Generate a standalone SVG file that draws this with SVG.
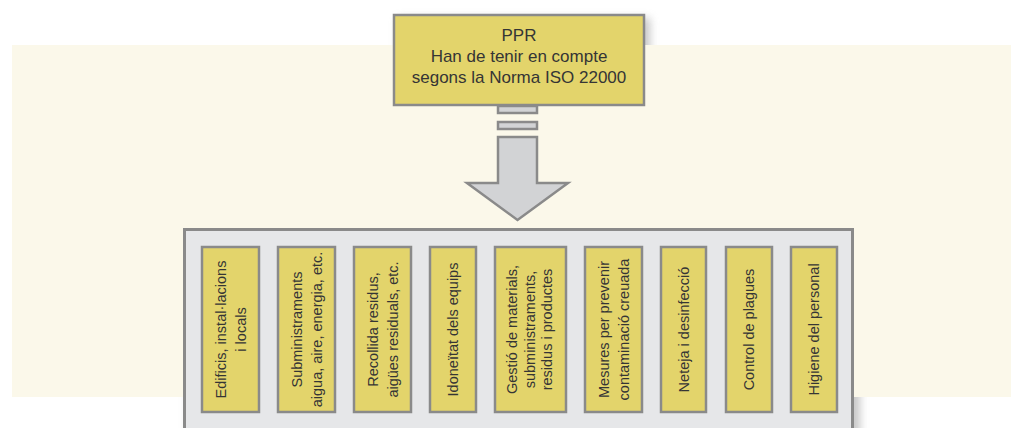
<svg xmlns="http://www.w3.org/2000/svg" width="1011" height="428" viewBox="0 0 1011 428">
<defs>
<style>
.panel{fill:#fbf8ea}
.shadow{fill:#9a9a9a;opacity:0.55;filter:url(#blur)}
.ybox{fill:#e3d46b;stroke:#8a8a8a;stroke-width:2.5}
.cont{fill:#e6e7e9;stroke:#8a8a8a;stroke-width:3}
.arrow{fill:#d2d3d5;stroke:#8a8a8a;stroke-width:2.5;stroke-linejoin:miter}
.t{font-family:"Liberation Sans",Arial,sans-serif;font-size:14.5px;fill:#353535;text-anchor:middle}
.tt{font-family:"Liberation Sans",Arial,sans-serif;font-size:17px;fill:#353535;text-anchor:middle}
</style>
<filter id="blur" x="-20%" y="-20%" width="140%" height="140%"><feGaussianBlur stdDeviation="4"/></filter>
</defs>
<rect width="1011" height="428" fill="#ffffff"/>
<g id="shadows">
<rect class="shadow" x="398" y="18" width="252" height="92"/>
<rect class="shadow" x="188" y="232" width="672" height="220"/>
</g>
<rect id="panel" class="panel" x="12" y="45" width="999" height="352"/>
<g id="container">
<rect class="cont" x="184.5" y="229.5" width="668" height="210"/>
</g>
<g id="connectors">
<rect class="arrow" x="498" y="106" width="39" height="7"/>
<rect class="arrow" x="498" y="122" width="39" height="7"/>
<polygon class="arrow" points="498,137 537,137 537,183 568,183 517.5,220 467,183 498,183"/>
</g>
<g id="ppr">
<rect class="ybox" x="394" y="15" width="250" height="90"/>
<text class="tt" x="519" y="41">PPR</text>
<text class="tt" x="519" y="62">Han de tenir en compte</text>
<text class="tt" x="519" y="83">segons la Norma ISO 22000</text>
</g>
<g id="n1">
<rect class="ybox" x="202" y="247" width="57" height="165"/>
<text class="t" transform="translate(230.5,329.5) rotate(-90)"><tspan x="0" y="-10" dy="0.35em">Edificis, instal·lacions</tspan><tspan x="0" y="10" dy="0.35em">i locals</tspan></text>
</g>
<g id="n2">
<rect class="ybox" x="278" y="247" width="57" height="165"/>
<text class="t" transform="translate(306.5,329.5) rotate(-90)"><tspan x="0" y="-10" dy="0.35em">Subministraments</tspan><tspan x="0" y="10" dy="0.35em">aigua, aire, energia, etc.</tspan></text>
</g>
<g id="n3">
<rect class="ybox" x="354" y="247" width="57" height="165"/>
<text class="t" transform="translate(382.5,329.5) rotate(-90)"><tspan x="0" y="-10" dy="0.35em">Recollida residus,</tspan><tspan x="0" y="10" dy="0.35em">aigües residuals, etc.</tspan></text>
</g>
<g id="n4">
<rect class="ybox" x="430" y="247" width="46" height="165"/>
<text class="t" transform="translate(453,329.5) rotate(-90)"><tspan x="0" y="0" dy="0.35em">Idoneïtat dels equips</tspan></text>
</g>
<g id="n5">
<rect class="ybox" x="495" y="247" width="71" height="165"/>
<text class="t" transform="translate(529.5,329.5) rotate(-90)"><tspan x="0" y="-17.5" dy="0.35em">Gestió de materials,</tspan><tspan x="0" y="0" dy="0.35em">subministraments,</tspan><tspan x="0" y="17.5" dy="0.35em">residus i productes</tspan></text>
</g>
<g id="n6">
<rect class="ybox" x="585" y="247" width="57" height="165"/>
<text class="t" transform="translate(613.5,329.5) rotate(-90)"><tspan x="0" y="-10" dy="0.35em">Mesures per prevenir</tspan><tspan x="0" y="10" dy="0.35em">contaminació creuada</tspan></text>
</g>
<g id="n7">
<rect class="ybox" x="661" y="247" width="45" height="165"/>
<text class="t" transform="translate(683.5,329.5) rotate(-90)"><tspan x="0" y="0" dy="0.35em">Neteja i desinfecció</tspan></text>
</g>
<g id="n8">
<rect class="ybox" x="726" y="247" width="46" height="165"/>
<text class="t" transform="translate(749,329.5) rotate(-90)"><tspan x="0" y="0" dy="0.35em">Control de plagues</tspan></text>
</g>
<g id="n9">
<rect class="ybox" x="791" y="247" width="46" height="165"/>
<text class="t" transform="translate(814,329.5) rotate(-90)"><tspan x="0" y="0" dy="0.35em">Higiene del personal</tspan></text>
</g>
</svg>
